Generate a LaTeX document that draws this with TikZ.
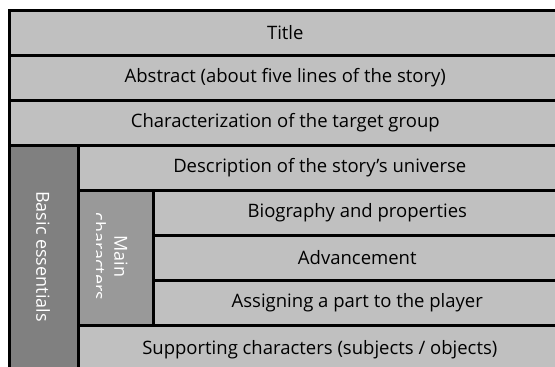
\documentclass[tikz,border=0pt]{standalone}
\usepackage{fontspec}
\setmainfont{Open Sans}
\definecolor{lightbox}{HTML}{C0C0C0}
\definecolor{darkbox}{HTML}{808080}
\definecolor{midbox}{HTML}{999999}
\begin{document}
\begin{tikzpicture}[x=1pt,y=-1pt,
  cell/.style={draw=black, line width=2.6pt, fill=lightbox, inner sep=0pt,
    anchor=north west},
  darkcell/.style={cell, fill=darkbox},
  midcell/.style={cell, fill=midbox},
  label/.style={font=\fontsize{18.5}{21}\selectfont, inner sep=0pt}]
\useasboundingbox (0,0) rectangle (555,367);
\begin{scope}
\clip (0,0) rectangle (555,367);
\node[cell, minimum width=552pt, minimum height=45pt] (title) at (8,9) {};
\node[cell, minimum width=552pt, minimum height=45pt] (abstract) at (8,54) {};
\node[cell, minimum width=552pt, minimum height=45pt] (target) at (8,99) {};
\node[darkcell, minimum width=69pt, minimum height=225pt] (basic) at (8,144) {};
\node[cell, minimum width=483pt, minimum height=45pt] (universe) at (77,144) {};
\node[midcell, minimum width=75pt, minimum height=135pt] (main) at (77,189) {};
\node[cell, minimum width=408pt, minimum height=45pt] (bio) at (152,189) {};
\node[cell, minimum width=408pt, minimum height=45pt] (adv) at (152,234) {};
\node[cell, minimum width=408pt, minimum height=45pt] (assign) at (152,279) {};
\node[cell, minimum width=483pt, minimum height=45pt] (support) at (77,324) {};
\end{scope}
\node[label] at (title.center) {Title};
\node[label] at (abstract.center) {Abstract (about five lines of the story)};
\node[label] at (target.center) {Characterization of the target group};
\node[label] at (universe.center) {Description of the story’s universe};
\node[label] at (bio.center) {Biography and properties};
\node[label] at (adv.center) {Advancement};
\node[label] at (assign.center) {Assigning a part to the player};
\node[label] at ([yshift=-1.5pt]support.center) {Supporting characters (subjects / objects)};
\node[label, text=white, rotate=-90, font=\fontsize{18}{21}\selectfont] at (43,256.5) {Basic essentials};
\begin{scope}
\clip (96,190) rectangle (150,322);
\node[label, text=white, rotate=-90, align=center, font=\fontsize{18}{22}\selectfont] (maintext) at (110,256.5) {Main\\characters};
\end{scope}
\end{tikzpicture}
\end{document}
